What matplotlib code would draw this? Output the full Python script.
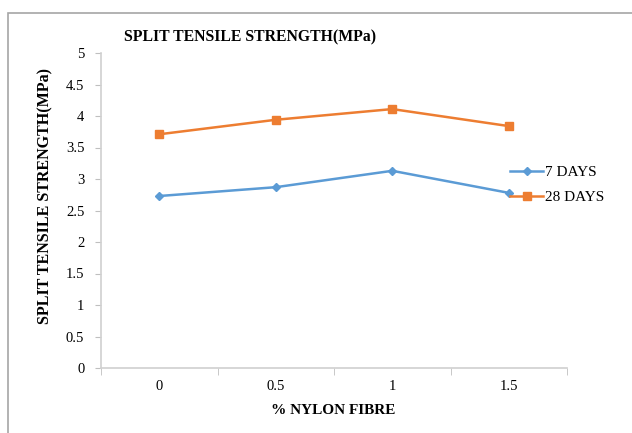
import matplotlib.pyplot as plt
from matplotlib.patches import Rectangle

plt.rcParams['font.family'] = ['Liberation Serif', 'DejaVu Serif']

fibre = ["0", "0.5", "1", "1.5"]
days7 = [2.73, 2.87, 3.13, 2.78]
days28 = [3.71, 3.94, 4.11, 3.84]

fig = plt.figure(figsize=(6.32, 4.33), dpi=100)
ax = fig.add_axes([101 / 632, 1 - 368 / 433, 466 / 632, 315 / 433])

# outer chart border (bottom edge falls outside the picture)
fig.patches.append(Rectangle((8 / 632, -0.1), 1, 1.1 - 13 / 433, transform=fig.transFigure,
                             fill=False, edgecolor="#a6a6a6", linewidth=1.2))

xs = range(len(fibre))
ax.plot(xs, days7, color="#5b9bd5", marker="D", markersize=4, linewidth=1.8, label="7 DAYS")
ax.plot(xs, days28, color="#ed7d31", marker="s", markersize=6, linewidth=1.8, label="28 DAYS")

ax.set_xlim(-0.5, 3.5)
ax.set_ylim(0, 5)
ax.set_yticks([0, 0.5, 1, 1.5, 2, 2.5, 3, 3.5, 4, 4.5, 5])
ax.set_yticklabels(["0", "0.5", "1", "1.5", "2", "2.5", "3", "3.5", "4", "4.5", "5"])
ax.set_xticks(list(xs))
ax.set_xticklabels(fibre)
ax.set_xticks([-0.5, 0.5, 1.5, 2.5, 3.5], minor=True)
ax.tick_params(axis="x", which="major", length=0, pad=9, labelsize=10.5)
ax.tick_params(axis="x", which="minor", length=5, color="#bfbfbf")
ax.tick_params(axis="y", length=4, color="#bfbfbf", pad=8, labelsize=10.5)

for s in ["top", "right"]:
    ax.spines[s].set_visible(False)
for s in ["left", "bottom"]:
    ax.spines[s].set_color("#d0d0d0")
    ax.spines[s].set_linewidth(1.2)

fig.text(250 / 632, 1 - 37 / 433, "SPLIT TENSILE STRENGTH(MPa)", ha="center", va="center",
         fontsize=11.3, fontweight="bold")
fig.text(45 / 632, 1 - 196 / 433, "SPLIT TENSILE STRENGTH(MPa)", ha="center", va="center",
         rotation=90, fontsize=11.5, fontweight="bold")
fig.text(333 / 632, 1 - 410 / 433, "% NYLON FIBRE", ha="center", va="center",
         fontsize=11, fontweight="bold")

ax.legend(loc="center left", bbox_to_anchor=(496 / 632, 1 - 185 / 433),
          bbox_transform=fig.transFigure, frameon=False, fontsize=11,
          handlelength=2.2, handletextpad=0.1, labelspacing=0.75)

fig.savefig("out.png", dpi=100)
